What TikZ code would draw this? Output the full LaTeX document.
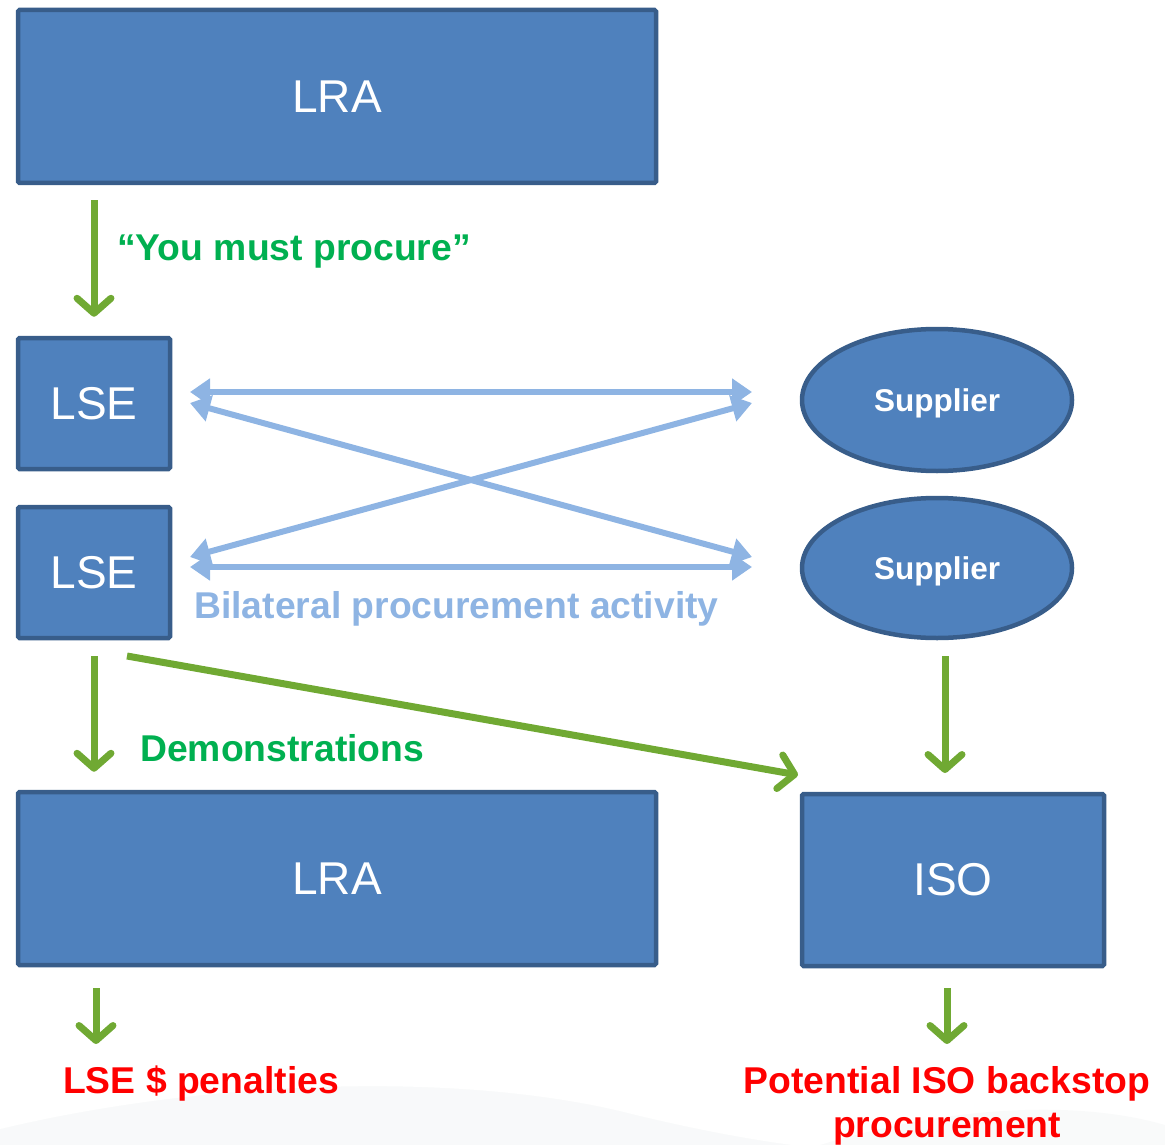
\documentclass[tikz,border=0pt]{standalone}
\usepackage{fontspec}
\setmainfont{Liberation Sans}
\usetikzlibrary{arrows.meta,shapes.geometric}
\definecolor{boxfill}{HTML}{4F81BD}
\definecolor{boxline}{HTML}{385D8A}
\definecolor{arrgreen}{HTML}{70A933}
\definecolor{txtgreen}{HTML}{00B050}
\definecolor{lblue}{HTML}{8EB4E3}
\definecolor{txtred}{HTML}{FF0000}
\definecolor{bgtint}{HTML}{EEF1F2}
\begin{document}
\begin{tikzpicture}[x=1pt,y=-1pt,
  boxstyle/.style={draw=boxline,fill=boxfill,line width=4.5pt,rounded corners=1.5pt,inner sep=0pt,text=white,font=\fontsize{46}{50}\selectfont},
  supstyle/.style={ellipse,draw=boxline,fill=boxfill,line width=4.5pt,inner sep=0pt,text depth=0pt,text=white,font=\bfseries\fontsize{31.5}{36}\selectfont},
  garrow/.style={draw=arrgreen,line width=7pt,-{Straight Barb[length=15pt,width=34pt,line cap=round,line join=round]}},
  barrow/.style={draw=lblue,line width=6pt,{Triangle[length=20pt,width=26pt]}-{Triangle[length=20pt,width=26pt]}},
  lbl/.style={inner sep=0pt,font=\bfseries\fontsize{37.3}{44}\selectfont}
]
\useasboundingbox (0,0) rectangle (1165,1145);
% faint background swoosh at the bottom
\fill[bgtint,opacity=0.4] (0,1145) -- (0,1128) .. controls (200,1080) and (450,1070) .. (620,1110) .. controls (700,1130) and (760,1140) .. (800,1145) -- cycle;
\draw[white,line width=2pt] (0,1128) .. controls (200,1080) and (450,1070) .. (620,1110) .. controls (700,1130) and (760,1140) .. (800,1145);
\fill[bgtint,opacity=0.35] (820,1145) .. controls (950,1105) and (1080,1100) .. (1165,1125) -- (1165,1145) -- cycle;

% boxes
\node[boxstyle,minimum width=638pt,minimum height=173pt] (LRA1) at (337,96.5) {LRA};
\node[boxstyle,minimum width=152pt,minimum height=131pt] (LSE1) at (94,403.5) {LSE};
\node[boxstyle,minimum width=152pt,minimum height=131pt] (LSE2) at (94,572.5) {LSE};
\node[supstyle,minimum width=270pt,minimum height=142pt] (Sup1) at (937,400) {Supplier};
\node[supstyle,minimum width=270pt,minimum height=140pt] (Sup2) at (937,568) {Supplier};
\node[boxstyle,minimum width=638pt,minimum height=173pt] (LRA2) at (337,878.5) {LRA};
\node[boxstyle,minimum width=302pt,minimum height=172pt] (ISO) at (953,880) {ISO};

% labels
\node[lbl,text=txtgreen,anchor=west] (tproc) at (117,252) {“You must procure”};
\node[lbl,text=lblue,anchor=west] (tbil) at (194,609) {Bilateral procurement activity};
\node[lbl,text=txtgreen,anchor=west] (tdem) at (140,748) {Demonstrations};
\node[lbl,text=txtred,anchor=west] (tpen) at (63,1084) {LSE \$ penalties};
\node[lbl,text=txtred,align=center] (tback) at (947,1106) {Potential ISO backstop\\procurement};

% coordinates for connector ends
\coordinate (b1l) at (190,392);  \coordinate (b1r) at (752,392);
\coordinate (b2l) at (190,567);  \coordinate (b2r) at (752,567);
\coordinate (d1l) at (190,403);  \coordinate (d1r) at (752,557);
\coordinate (d2l) at (190,557);  \coordinate (d2r) at (752,403);
\coordinate (g3s) at (127,656);  \coordinate (g3e) at (798,775);
\coordinate (g4s) at (945,656);  \coordinate (g4e) at (945,773);
\coordinate (g5s) at (96,988);   \coordinate (g5e) at (96,1044);
\coordinate (g6s) at (947,988);  \coordinate (g6e) at (947,1044);

% blue bilateral arrows
\draw[barrow] (b1l) -- (b1r);
\draw[barrow] (b2l) -- (b2r);
\draw[barrow] (d1l) -- (d1r);
\draw[barrow] (d2l) -- (d2r);

% green arrows
\draw[garrow,shorten <=15pt,shorten >=19pt] (LSE1.north |- LRA1.south) -- (LSE1.north);
\draw[garrow,shorten <=16pt,shorten >=18pt] (LSE2.south) -- (LSE2.south |- LRA2.north);
\draw[garrow] (g3s) -- (g3e);
\draw[garrow] (g4s) -- (g4e);
\draw[garrow] (g5s) -- (g5e);
\draw[garrow] (g6s) -- (g6e);
\end{tikzpicture}
\end{document}
